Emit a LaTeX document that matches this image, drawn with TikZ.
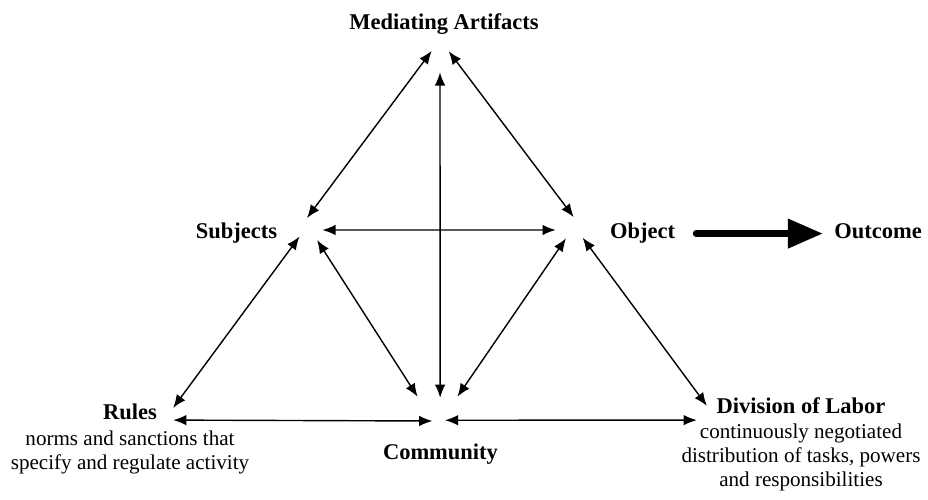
\documentclass[tikz,border=0pt]{standalone}
\usepackage{fontspec}
\setmainfont{Liberation Serif}
\usetikzlibrary{arrows.meta}
\tikzset{vtx/.style = {circle, inner sep = 0, minimum size = 0.48cm}}
\tikzset{lbl/.style = {font = \fontsize{12.8}{15}\selectfont\bfseries, inner sep = 0}}
\tikzset{blk/.style = {font = \fontsize{12}{13.5}\selectfont, align = center, inner sep = 0}}
\tikzset{link/.style = {{Latex[length=7.5pt, width=6pt]}-{Latex[length=7.5pt, width=6pt]},
                        line width = 0.8pt}}
\tikzset{flow/.style = {-{Triangle[length=20pt, width=16pt]}, line width = 4pt,
                        line cap = round}}

\begin{document}
\begin{tikzpicture}
    \useasboundingbox (0, 0) rectangle (18.56, 10);

    \node [vtx] (top) at (8.8, 8.8) {};
    \node [vtx] (sub) at (6.2, 5.4) {};
    \node [vtx, minimum size = 0.56cm] (obj) at (11.4, 5.38) {};
    \node [vtx, minimum size = 0.46cm] (rul) at (3.26, 1.72) {};
    \node [vtx] (com) at (8.76, 1.8) {};
    \node [vtx] (div) at (14.18, 1.64) {};

    \node [lbl, anchor = base] (artL) at (8.88, 9.40) {Mediating Artifacts};
    \node [lbl, anchor = base] (subL) at (4.73, 5.22) {Subjects};
    \node [lbl, anchor = base] (objL) at (12.85, 5.22) {Object};
    \node [lbl, anchor = base] (outL) at (17.56, 5.22) {Outcome};
    \node [lbl, anchor = base] (comL) at (8.81, 0.81) {Community};
    \node [blk, anchor = north] (rulL) at (2.6, 1.92)
        {{\bfseries\fontsize{12.8}{15}\selectfont Rules}\\[1pt]
         norms and sanctions that\\ specify and regulate activity};
    \node [blk, anchor = north] (divL) at (16.02, 2.06)
        {{\bfseries\fontsize{12.8}{15}\selectfont Division of Labor}\\[1pt]
         continuously negotiated\\ distribution of tasks, powers\\ and responsibilities};

    \draw [link] (top.132) -- (sub.104);
    \draw [link] (top.45) -- (obj.75);
    \draw [link] (top.270) -- (com.80);
    \draw [link] (sub.0) -- (obj.176);
    \draw [link] (sub.212) -- (rul.31);
    \draw [link, shorten >= 0.3cm] (sub.305) -- (com.177);
    \draw [link, shorten <= -0.12cm, shorten >= 0.26cm] (obj.239) -- (com.12);
    \draw [link] (obj.332) -- (div.100);
    \draw [link] (rul.329) -- (com.243);
    \draw [link] (com.304) -- (div.190);

    \draw [flow, shorten <= 0.42cm, shorten >= 0.22cm] (objL.east) -- (objL.east -| outL.west);

\end{tikzpicture}
\end{document}
